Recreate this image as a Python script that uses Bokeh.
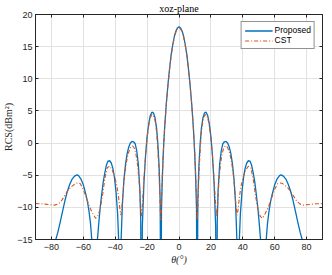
from bokeh.plotting import figure
from bokeh.models import Range1d, LinearAxis, FixedTicker, Legend
from bokeh.embed import file_html
from bokeh.resources import INLINE

# ---- data ----
theta_prop = [-80, -79, -77.5, -76, -74.5, -73, -71.5, -70, -68.5, -67, -65.5, -64, -63, -61.5, -60,
              -58.5, -57.5, -56.5, -55.5, -54.7, -54, -52.8, -51.3, -50.5, -49.5, -48.5, -47.5, -46.5,
              -45.5, -44.5, -43.5, -42.5, -41.5, -40.5, -39.5, -38.5, -37.7, -37, -36.3, -35.5, -34.5,
              -33.5, -32.5, -31.5, -30.5, -29.5, -28.5, -27.5, -26.5, -25.5, -24.5, -24, -23.5, -23,
              -22, -21, -20, -19, -18, -17, -16, -15, -14, -13.3, -12.5, -11.8, -11.3, -11, -10.5, -10,
              -9.5, -9, -8, -7, -6, -5, -4, -3, -2, -1,
              0, 1, 2, 3, 4, 5, 6, 7, 8, 9, 9.5, 10, 10.5, 11, 11.3, 11.8, 12.5, 13.3, 14, 15, 16, 17,
              18, 19, 20, 21, 22, 23, 23.5, 24, 24.5, 25.5, 26.5, 27.5, 28.5, 29.5, 30.5, 31.5, 32.5,
              33.5, 34.5, 35.5, 36.3, 37, 37.7, 38.5, 39.5, 40.5, 41.5, 42.5, 43.5, 44.5, 45.5, 46.5,
              47.5, 48.5, 49.5, 50.5, 51.3, 52.8, 54, 54.7, 55.5, 56.5, 57.5, 58.5, 60, 61.5, 63, 64,
              65.5, 67, 68.5, 70, 71.5, 73, 74.5, 76, 77.5, 79, 80]
rcs_prop = [-18, -16.8, -15.2, -13.9, -12.3, -10.6, -8.9, -7.5, -6.4, -5.6, -5.15, -4.95, -5.05, -5.6,
            -6.5, -7.9, -9.0, -10.5, -12.5, -15, -20, -40, -15.5, -13.0, -10.2, -8.0, -6.0, -4.6, -3.4,
            -2.8, -2.75, -3.1, -3.9, -5.3, -7.6, -11, -16, -40, -15, -9.5, -5.6, -3.2, -1.6, -0.6, 0.0,
            0.25, 0.2, -0.1, -1.2, -3.3, -7.5, -12, -40, -13, -6.2, -2.0, 1.0, 3.0, 4.3, 4.8, 4.7, 3.9,
            2.2, 0, -3.5, -9, -40, -10.5, -5.8, -2.5, 0.2, 2.4, 6.0, 8.9, 11.4, 13.6, 15.2, 16.5, 17.4,
            17.9,
            18.1, 17.9, 17.4, 16.5, 15.2, 13.6, 11.4, 8.9, 6.0, 2.4, 0.2, -2.5, -5.8, -10.5, -40, -9,
            -3.5, 0, 2.2, 3.9, 4.7, 4.8, 4.3, 3.0, 1.0, -2.0, -6.2, -13, -40, -12, -7.5, -3.3, -1.2,
            -0.1, 0.2, 0.25, 0.0, -0.6, -1.6, -3.2, -5.6, -9.5, -15, -40, -16, -11, -7.6, -5.3, -3.9,
            -3.1, -2.75, -2.8, -3.4, -4.6, -6.0, -8.0, -10.2, -13.0, -15.5, -40, -20, -15, -12.5,
            -10.5, -9.0, -7.9, -6.5, -5.6, -5.05, -4.95, -5.15, -5.6, -6.4, -7.5, -8.9, -10.6, -12.3,
            -13.9, -15.2, -16.8, -18]

theta_cst = [-90, -88, -86, -84, -82, -80, -78, -76, -74, -72, -70, -68, -66, -65, -63.5, -62, -60,
             -58, -56, -54, -52.3, -51, -49.5, -48, -46.5, -45, -43.5, -42, -40.5, -39, -38, -37,
             -36.4, -35.8, -35, -34, -33, -32, -31, -30, -29, -28, -27, -26, -25, -24.2, -23.6, -23,
             -22, -21, -20, -19, -18, -17, -16, -15, -14, -13.3, -12.5, -12, -11.5, -11, -10.5, -10,
             -9.5, -9, -8, -7, -6, -5, -4, -3, -2, -1,
             0, 1, 2, 3, 4, 5, 6, 7, 8, 9, 9.5, 10, 10.5, 11, 11.5, 12, 12.5, 13.3, 14, 15, 16, 17,
             18, 19, 20, 21, 22, 23, 23.6, 24.2, 25, 26, 27, 28, 29, 30, 31, 32, 33, 34, 35, 35.8,
             36.4, 37, 38, 39, 40.5, 42, 43.5, 45, 46.5, 48, 49.5, 51, 52.3, 54, 56, 58, 60, 62, 63.5,
             65, 66, 68, 70, 72, 74, 76, 78, 80, 82, 84, 86, 88, 90]
rcs_cst = [-9.4, -9.45, -9.45, -9.5, -9.55, -9.6, -9.65, -9.5, -9.1, -8.3, -7.5, -6.9, -6.5, -6.3,
           -6.2, -6.3, -7.2, -8.6, -10.0, -11.0, -11.7, -11.4, -10.3, -8.2, -5.5, -3.8, -3.6, -4.1,
           -5.1, -6.6, -8.2, -10.4, -11.2, -10.0, -7.2, -4.8, -3.0, -1.8, -1.0, -0.5, -0.45, -0.8,
           -1.7, -3.4, -6.0, -9.8, -11.4, -9.6, -5.6, -2.0, 0.8, 2.7, 3.95, 4.45, 4.3, 3.5, 1.6, -1.0,
           -4.8, -8.8, -12.0, -8.8, -5.2, -2.2, 0.3, 2.4, 5.9, 8.8, 11.25, 13.45, 15.05, 16.35, 17.25,
           17.75,
           17.95, 17.75, 17.25, 16.35, 15.05, 13.45, 11.25, 8.8, 5.9, 2.4, 0.3, -2.2, -5.2, -8.8,
           -12.0, -8.8, -4.8, -1.0, 1.6, 3.5, 4.3, 4.45, 3.95, 2.7, 0.8, -2.0, -5.6, -9.6, -11.4,
           -9.8, -6.0, -3.4, -1.7, -0.8, -0.45, -0.5, -1.0, -1.8, -3.0, -4.8, -7.2, -10.0, -11.2,
           -10.4, -8.2, -6.6, -5.1, -4.1, -3.6, -3.8, -5.5, -8.2, -10.3, -11.4, -11.7, -11.0, -10.0,
           -8.6, -7.2, -6.3, -6.2, -6.3, -6.5, -6.9, -7.5, -8.3, -9.1, -9.5, -9.65, -9.6, -9.55,
           -9.5, -9.45, -9.45, -9.4]

x_ticks = [-80, -60, -40, -20, 0, 20, 40, 60, 80]
y_ticks = [-15, -10, -5, 0, 5, 10, 15, 20]
series_names = ["Proposed", "CST"]
title_text = "xoz-plane"
x_label = "θ(°)"
y_label = "RCS(dBm²)"

assert len(theta_prop) == len(rcs_prop)
assert len(theta_cst) == len(rcs_cst)

# ---- figure ----
AX = "#262626"
p = figure(width=324, height=267, x_range=Range1d(-90, 90), y_range=Range1d(-15, 20),
           output_backend="svg", toolbar_location=None,
           min_border_left=0, min_border_right=2, min_border_top=0, min_border_bottom=0)
p.background_fill_color = "white"
p.border_fill_color = "white"
p.outline_line_color = AX
p.outline_line_width = 1

p.title.text = title_text
p.title.align = "center"
p.title.text_font = "Liberation Serif"
p.title.text_font_size = "10px"
p.title.text_font_style = "normal"
p.title.text_color = "black"
p.title.standoff = 1

for ax, ticks in ((p.xaxis[0], x_ticks), (p.yaxis[0], y_ticks)):
    ax.ticker = FixedTicker(ticks=ticks)
    ax.major_tick_in = 3
    ax.major_tick_out = 0
    ax.minor_tick_line_color = None
    ax.axis_line_color = AX
    ax.major_tick_line_color = AX
    ax.major_label_text_font = "Liberation Sans"
    ax.major_label_text_font_size = "9px"
    ax.major_label_text_color = AX
    ax.axis_label_text_font = "Liberation Serif"
    ax.axis_label_text_font_size = "10px"
    ax.axis_label_text_color = AX

p.xaxis.axis_label = x_label
p.xaxis.axis_label_text_font_style = "italic"
p.xaxis.major_label_standoff = 4
p.xaxis.axis_label_standoff = 1
p.yaxis.axis_label = y_label
p.yaxis.axis_label_text_font_style = "normal"
p.yaxis.major_label_standoff = 3
p.yaxis.axis_label_standoff = 0

# tick-only axes on top and right (MATLAB-style box ticks), no labels drawn
top = LinearAxis(ticker=FixedTicker(ticks=x_ticks), major_label_text_font_size="1px",
                 major_label_text_color=None, major_label_standoff=0,
                 major_tick_in=3, major_tick_out=0,
                 minor_tick_line_color=None, axis_line_color=AX, major_tick_line_color=AX)
right = LinearAxis(ticker=FixedTicker(ticks=y_ticks), major_label_text_font_size="1px",
                   major_label_text_color=None, major_label_standoff=0,
                   major_tick_in=3, major_tick_out=0,
                   minor_tick_line_color=None, axis_line_color=AX, major_tick_line_color=AX)
p.add_layout(top, "above")
p.add_layout(right, "right")

p.xgrid.grid_line_color = "#e2e2e2"
p.ygrid.grid_line_color = "#e2e2e2"
p.xgrid.ticker = FixedTicker(ticks=x_ticks)
p.ygrid.ticker = FixedTicker(ticks=y_ticks)

r1 = p.line(theta_prop, rcs_prop, line_color="#0072BD", line_width=1.3)
r2 = p.line(theta_cst, rcs_cst, line_color="#D95319", line_width=1.1, line_dash="4 2 1 2")

legend = Legend(items=[(series_names[0], [r1]), (series_names[1], [r2])],
                location="top_right", margin=7, padding=3, spacing=0,
                label_text_font="Liberation Sans", label_text_font_size="8.5px",
                label_text_color="black", label_height=9, glyph_height=9, glyph_width=28,
                label_standoff=2, border_line_color=AX, border_line_width=1,
                background_fill_color="white", background_fill_alpha=1)
p.add_layout(legend)

open("out.html", "w").write(file_html(p, INLINE))
